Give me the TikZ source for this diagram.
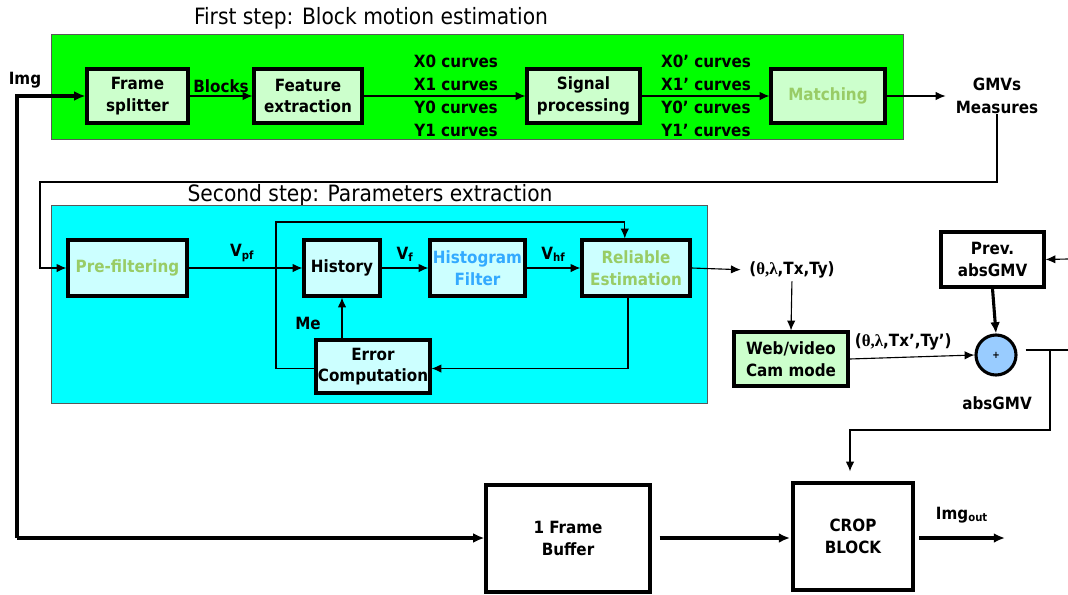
\documentclass[tikz,border=0pt]{standalone}
\usepackage{fontspec}
\setmainfont{DejaVu Sans Condensed}
\newfontfamily\grkfont{Liberation Serif}
\usepackage{tikz}
\usetikzlibrary{positioning}
\usetikzlibrary{arrows.meta}

\definecolor{panelgreen}{RGB}{0,255,0}
\definecolor{panelcyan}{RGB}{0,255,255}
\definecolor{boxgreen}{RGB}{204,255,204}
\definecolor{boxcyan}{RGB}{204,255,255}
\definecolor{txtgreen}{RGB}{153,204,102}
\definecolor{txtblue}{RGB}{51,170,255}
\definecolor{sumblue}{RGB}{153,204,255}

\begin{document}
\begin{tikzpicture}[x=0.025cm, y=-0.025cm]
    \tikzstyle{panel}=[draw=black!65, line width=0.6pt, inner sep=0pt]
    \tikzstyle{block}=[draw=black, line width=2.2pt, align=center,
            font=\bfseries\fontsize{12}{15.5}\selectfont, inner sep=1pt]
    \tikzstyle{lbl}=[align=center, inner sep=0pt,
            font=\bfseries\fontsize{12}{16}\selectfont]
    \tikzstyle{flow}=[line width=0.8pt, -{Latex[length=7pt,width=6pt]}]
    \tikzstyle{bigflow}=[line width=2.2pt, -{Latex[length=8pt,width=7pt]}]

        \useasboundingbox (0,0) rectangle (1068,594);

        % first step
        \node[font=\fontsize{16}{18}\selectfont] (title1) at (371,18)
        {First step: Block motion estimation};
        \node[panel, fill=panelgreen, minimum width=21.275cm,
            minimum height=2.625cm] (step1) at (477.5,86.5) {};

        \node[block, fill=boxgreen, minimum width=2.525cm,
            minimum height=1.35cm] (split) at (137.5,96) {Frame\\splitter};
        \node[block, fill=boxgreen, minimum width=2.7cm,
            minimum height=1.35cm] (feat) at (308,96) {Feature\\extraction};
        \node[block, fill=boxgreen, minimum width=2.825cm,
            minimum height=1.35cm] (sig) at (583.5,96) {Signal\\processing};
        \node[block, fill=boxgreen, text=txtgreen, minimum width=2.85cm,
            minimum height=1.35cm] (match) at (828,96) {Matching};

        \node[lbl] (img) at (25,80) {Img};
        \node[lbl] (gmv) at (997,96) {GMVs\\Measures};

        \draw[flow] (split) -- (feat)
        node[lbl, midway, above=2pt] {Blocks};
        \draw[flow] (feat) -- (sig);
        \draw[flow] (sig) -- (match);
        \draw[flow] (match.east) -- ([xshift=-0.25cm]gmv.west |- match.east);

        \foreach \c/\y in {X0/61, X1/84, Y0/107, Y1/130}
        {
            \node[lbl] (c\c) at (456,\y) {\c\ curves};
            \node[lbl] (p\c) at (706,\y) {\c’ curves};
        }

        % second step
        \node[font=\fontsize{16}{18}\selectfont] (title2) at (370,195)
        {Second step: Parameters extraction};
        \node[panel, fill=panelcyan, minimum width=16.375cm,
            minimum height=4.95cm] (step2) at (379.5,304) {};

        \node[block, fill=boxcyan, text=txtgreen, minimum width=2.975cm,
            minimum height=1.4cm] (prefilt) at (127.5,268) {Pre-filtering};
        \node[block, fill=boxcyan, minimum width=1.9cm,
            minimum height=1.4cm] (hist) at (342,268) {History};
        \node[block, fill=boxcyan, text=txtblue, minimum width=2.375cm,
            minimum height=1.4cm] (histf) at (477.5,268) {Histogram\\Filter};
        \node[block, fill=boxcyan, text=txtgreen, minimum width=2.7cm,
            minimum height=1.4cm] (relest) at (636,268) {Reliable\\Estimation};
        \node[block, fill=boxcyan, minimum width=2.85cm,
            minimum height=1.325cm] (errc) at (373,366.5) {Error\\Computation};

        \draw[flow] (gmv.south) |- (40,182) |- (prefilt.west);

        \draw[flow] (prefilt) -- (hist)
        node[lbl, pos=0.47, above=4pt] {V\textsubscript{pf}};
        \draw[flow] (hist) -- (histf)
        node[lbl, midway, above=4pt] {V\textsubscript{f}};
        \draw[flow] (histf) -- (relest)
        node[lbl, midway, above=4pt] {V\textsubscript{hf}};

        \draw[flow] (hist.south |- errc.north) -- (hist.south);
        \node[lbl] (me) at (308,323) {Me};
        \draw[flow] ([xshift=-0.2cm]relest.south) |- ([yshift=-0.05cm]errc.east);
        \draw[flow] ([yshift=-0.05cm]errc.west) -| (276,222)
        -| ([xshift=-0.28cm]relest.north);

        % motion parameters
        \node[lbl, font=\bfseries\fontsize{12}{14}\selectfont] (params)
        at (792,270) {({\grkfont θ,λ},Tx,Ty)};
        \draw[flow, shorten >=6pt] (relest.east) -- (params.west);

        \node[block, fill=boxgreen, minimum width=2.85cm,
            minimum height=1.35cm] (webcam) at (791,359) {Web/video\\Cam mode};
        \draw[flow, shorten <=2pt] (params.south) -- (webcam.north);

        \node[block, fill=white, minimum width=2.575cm,
            minimum height=1.375cm] (prevgmv) at (992.5,259.5) {Prev.\\absGMV};
        \node[circle, draw=black, line width=2.2pt, fill=sumblue,
            minimum size=1cm, inner sep=0pt,
            font=\bfseries\fontsize{7}{8}\selectfont] (sum) at (996,355) {+};
        \node[lbl] (absgmv) at (997,403) {absGMV};

        \draw[flow] (webcam.east) -- (sum.west)
        node[lbl, font=\bfseries\fontsize{12}{14}\selectfont, pos=0.43,
            above=5pt] {({\grkfont θ,λ},Tx’,Ty’)};
        \draw[bigflow] (prevgmv.south) -- (sum.north);

        \coordinate (rin) at (1068,259);
        \coordinate (rout) at (1068,350);
        \coordinate (tap) at (1050,350);
        \draw[flow] (rin) -- (prevgmv.east);
        \draw[line width=0.8pt, shorten <=0.2cm] (sum.east |- rout) -- (rout);

        % output stage
        \node[block, fill=white, minimum width=4.1cm,
            minimum height=2.675cm] (buffer) at (568,538.5) {1 Frame\\Buffer};
        \node[block, fill=white, minimum width=3cm,
            minimum height=2.675cm] (crop) at (853,536.5) {CROP\\BLOCK};

        \draw[flow, shorten >=0.25cm] (tap) |- (850,430) -- (crop.north -| 850,0);

        \coordinate (corner) at (17,538);
        \coordinate (imgout) at (1005,538);
        \draw[bigflow] (corner) |- (split.west);
        \draw[bigflow] (corner) -- (buffer.west |- corner);
        \draw[bigflow, shorten <=0.2cm, shorten >=1pt]
        (buffer.east |- corner) -- (crop.west |- corner);
        \draw[bigflow, shorten <=0.12cm] (crop.east |- corner) -- (imgout);
        \node[lbl] (imgo) at (962,515) {Img\textsubscript{out}};

    \end{tikzpicture}
\end{document}
